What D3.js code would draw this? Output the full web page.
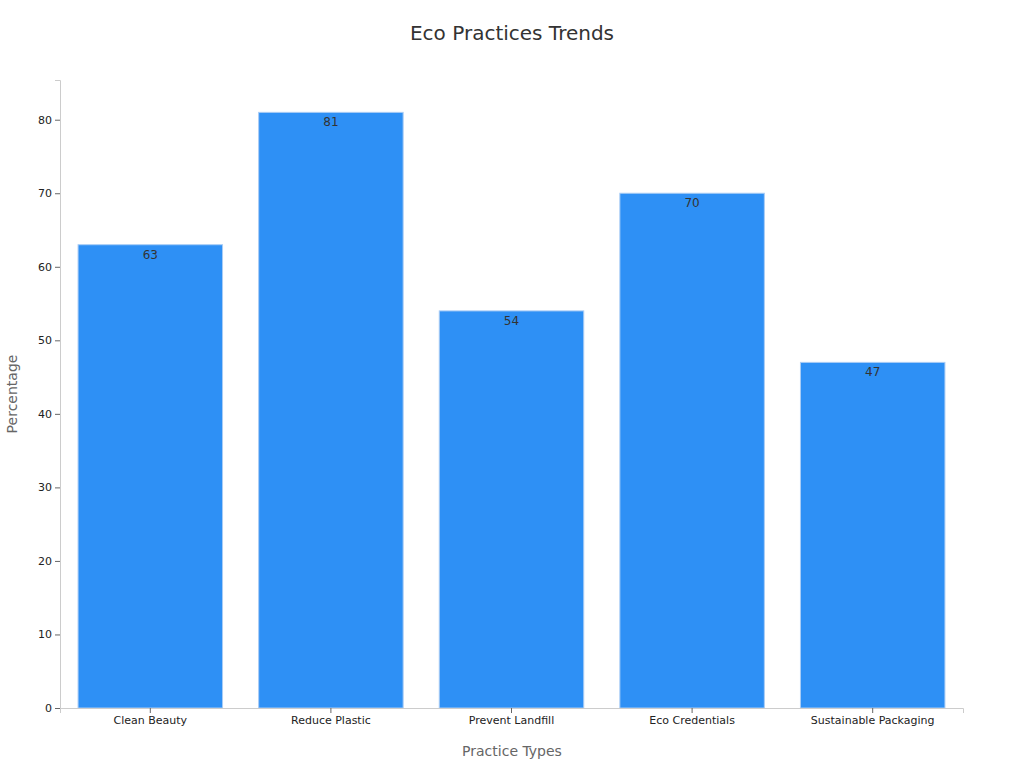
<!DOCTYPE html>
<html><head><meta charset="utf-8">
<script src="https://cdn.jsdelivr.net/npm/d3@7"></script>
<style>body{margin:0;background:#fff;font-family:"DejaVu Sans",sans-serif}</style>
</head><body><svg id="c" width="1024" height="768"></svg>
<script>
const categories=["Clean Beauty","Reduce Plastic","Prevent Landfill","Eco Credentials","Sustainable Packaging"];
const values=[63,81,54,70,47];
const yTicks=[0,10,20,30,40,50,60,70,80];
const svg=d3.select("#c");
const x=d3.scaleBand().domain(categories).range([60,963]).paddingInner(0.2).paddingOuter(0.1);
const y=d3.scaleLinear().domain([0,85.4]).range([708,80]);
svg.append("text").attr("x",512).attr("y",40).attr("text-anchor","middle").attr("font-size",20).attr("fill","#333").text("Eco Practices Trends");
svg.selectAll("rect.b").data(values).enter().append("rect").attr("class","b")
 .attr("x",(d,i)=>x(categories[i])).attr("width",x.bandwidth())
 .attr("y",d=>y(d)).attr("height",d=>y(0)-y(d))
 .attr("fill","#2E90F5").attr("stroke","#A9CCF5").attr("stroke-width",1);
svg.selectAll("text.v").data(values).enter().append("text")
 .attr("x",(d,i)=>x(categories[i])+x.bandwidth()/2).attr("y",d=>y(d)+14)
 .attr("text-anchor","middle").attr("font-size",12).attr("fill","#333").text(d=>d);
const xa=svg.append("g").attr("transform","translate(0,708)").call(d3.axisBottom(x).tickSizeOuter(0).tickSize(5));
xa.select(".domain").attr("stroke","#ccc");
xa.selectAll("line").attr("stroke","#666");
xa.selectAll("text").attr("font-size",11).attr("fill","#222").attr("font-family","DejaVu Sans");
const ya=svg.append("g").attr("transform","translate(60,0)").call(d3.axisLeft(y).tickValues(yTicks).tickSizeOuter(0).tickSize(5));
ya.select(".domain").attr("stroke","#ccc");
ya.selectAll("line").attr("stroke","#666");
ya.selectAll("text").attr("font-size",11).attr("fill","#222").attr("font-family","DejaVu Sans");
svg.append("text").attr("x",512).attr("y",756).attr("text-anchor","middle").attr("font-size",14).attr("fill","#666").text("Practice Types");
svg.append("text").attr("transform","translate(17,394) rotate(-90)").attr("text-anchor","middle").attr("font-size",14).attr("fill","#666").text("Percentage");
</script></body></html>
